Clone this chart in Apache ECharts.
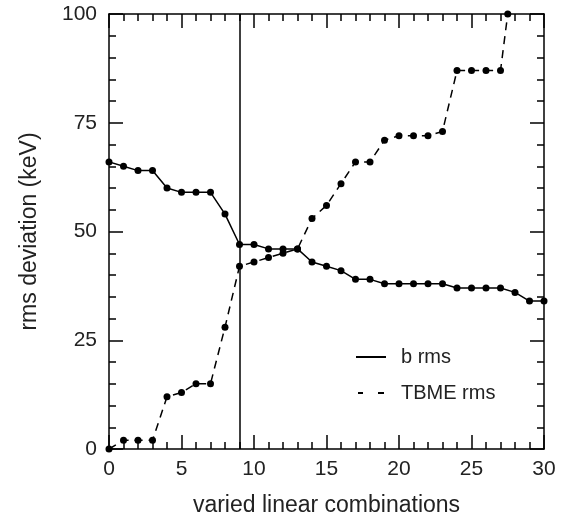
<!DOCTYPE html>
<html>
<head>
<meta charset="utf-8">
<script src="https://cdn.jsdelivr.net/npm/echarts@6/dist/echarts.min.js"></script>
<style>html,body{margin:0;padding:0;background:#fff}#c{width:573px;height:520px}</style>
</head>
<body>
<div id="c"></div>
<script>
// x positions (varied linear combinations)
const bX = [0,1,2,3,4,5,6,7,8,9,10,11,12,13,14,15,16,17,18,19,20,21,22,23,24,25,26,27,28,29,30];
const bRms = [66,65,64,64,60,59,59,59,54,47,47,46,46,46,43,42,41,39,39,38,38,38,38,38,37,37,37,37,36,34,34];
const tX = [0,1,2,3,4,5,6,7,8,9,10,11,12,13,14,15,16,17,18,19,20,21,22,23,24,25,26,27,27.5];
const tbmeRms = [0,2,2,2,12,13,15,15,28,42,43,44,45,46,53,56,61,66,66,71,72,72,72,73,87,87,87,87,100];
const xTicks = [0,5,10,15,20,25,30];
const yTicks = [0,25,50,75,100];
const chosenX = 9;

const FONT = 'Liberation Sans, Arial, Helvetica, sans-serif';
function axisBase() {
  return {
    type: 'value',
    axisLine: {show: true, onZero: false, lineStyle: {color: '#000', width: 1.5}},
    axisTick: {show: true, inside: true, length: 14, lineStyle: {color: '#000', width: 1.5}},
    minorTick: {show: true, splitNumber: 5, length: 7, lineStyle: {color: '#000', width: 1.5}},
    splitLine: {show: false},
    minorSplitLine: {show: false}
  };
}

const chart = echarts.init(document.getElementById('c'), null, {renderer: 'canvas'});
chart.setOption({
  animation: false,
  backgroundColor: '#fff',
  grid: {left: 109, right: 29, top: 14, bottom: 71, containLabel: false, outerBoundsMode: 'none'},
  xAxis: [
    Object.assign(axisBase(), {
      min: xTicks[0], max: xTicks[xTicks.length-1], interval: 5, position: 'bottom',
      name: 'varied linear combinations', nameLocation: 'middle', nameGap: 45,
      nameTextStyle: {fontFamily: FONT, fontSize: 23, color: '#222'},
      axisLabel: {show: true, margin: 10, fontFamily: FONT, fontSize: 21, color: '#222'}
    }),
    Object.assign(axisBase(), {
      min: xTicks[0], max: xTicks[xTicks.length-1], interval: 5, position: 'top',
      axisLabel: {show: false}
    })
  ],
  yAxis: [
    Object.assign(axisBase(), {
      min: yTicks[0], max: yTicks[yTicks.length-1], interval: 25, position: 'left',
      name: 'rms deviation (keV)', nameLocation: 'middle', nameGap: 68, nameRotate: 90,
      nameTextStyle: {fontFamily: FONT, fontSize: 23, color: '#222'},
      axisLabel: {show: true, margin: 12, fontFamily: FONT, fontSize: 21, color: '#222'}
    }),
    Object.assign(axisBase(), {
      min: yTicks[0], max: yTicks[yTicks.length-1], interval: 25, position: 'right',
      axisLabel: {show: false}
    })
  ],
  legend: {
    orient: 'vertical', left: 351, top: 342, itemGap: 16,
    itemWidth: 30, itemHeight: 2,
    textStyle: {fontFamily: FONT, fontSize: 20, color: '#222', padding: [0,0,0,10]},
    data: [
      {name: 'b rms', icon: 'path://M0,0h30v2h-30z'},
      {name: 'TBME rms', icon: 'path://M1,0h5v2h-5zM21,0h6v2h-6z'}
    ],
    itemStyle: {color: '#000'}
  },
  series: [
    {
      name: 'b rms', type: 'line',
      data: bX.map((x,i) => [x, bRms[i]]),
      symbol: 'circle', symbolSize: 7,
      itemStyle: {color: '#000'},
      lineStyle: {color: '#000', width: 1.5, type: 'solid'},
      clip: false,
      markLine: {
        silent: true, symbol: 'none', label: {show: false},
        lineStyle: {color: '#000', width: 1.5, type: 'solid'},
        data: [{xAxis: chosenX}]
      }
    },
    {
      name: 'TBME rms', type: 'line',
      data: tX.map((x,i) => [x, tbmeRms[i]]),
      symbol: 'circle', symbolSize: 7,
      itemStyle: {color: '#000'},
      lineStyle: {color: '#000', width: 1.5, type: [8,6]},
      clip: false
    }
  ]
});
</script>
</body>
</html>
